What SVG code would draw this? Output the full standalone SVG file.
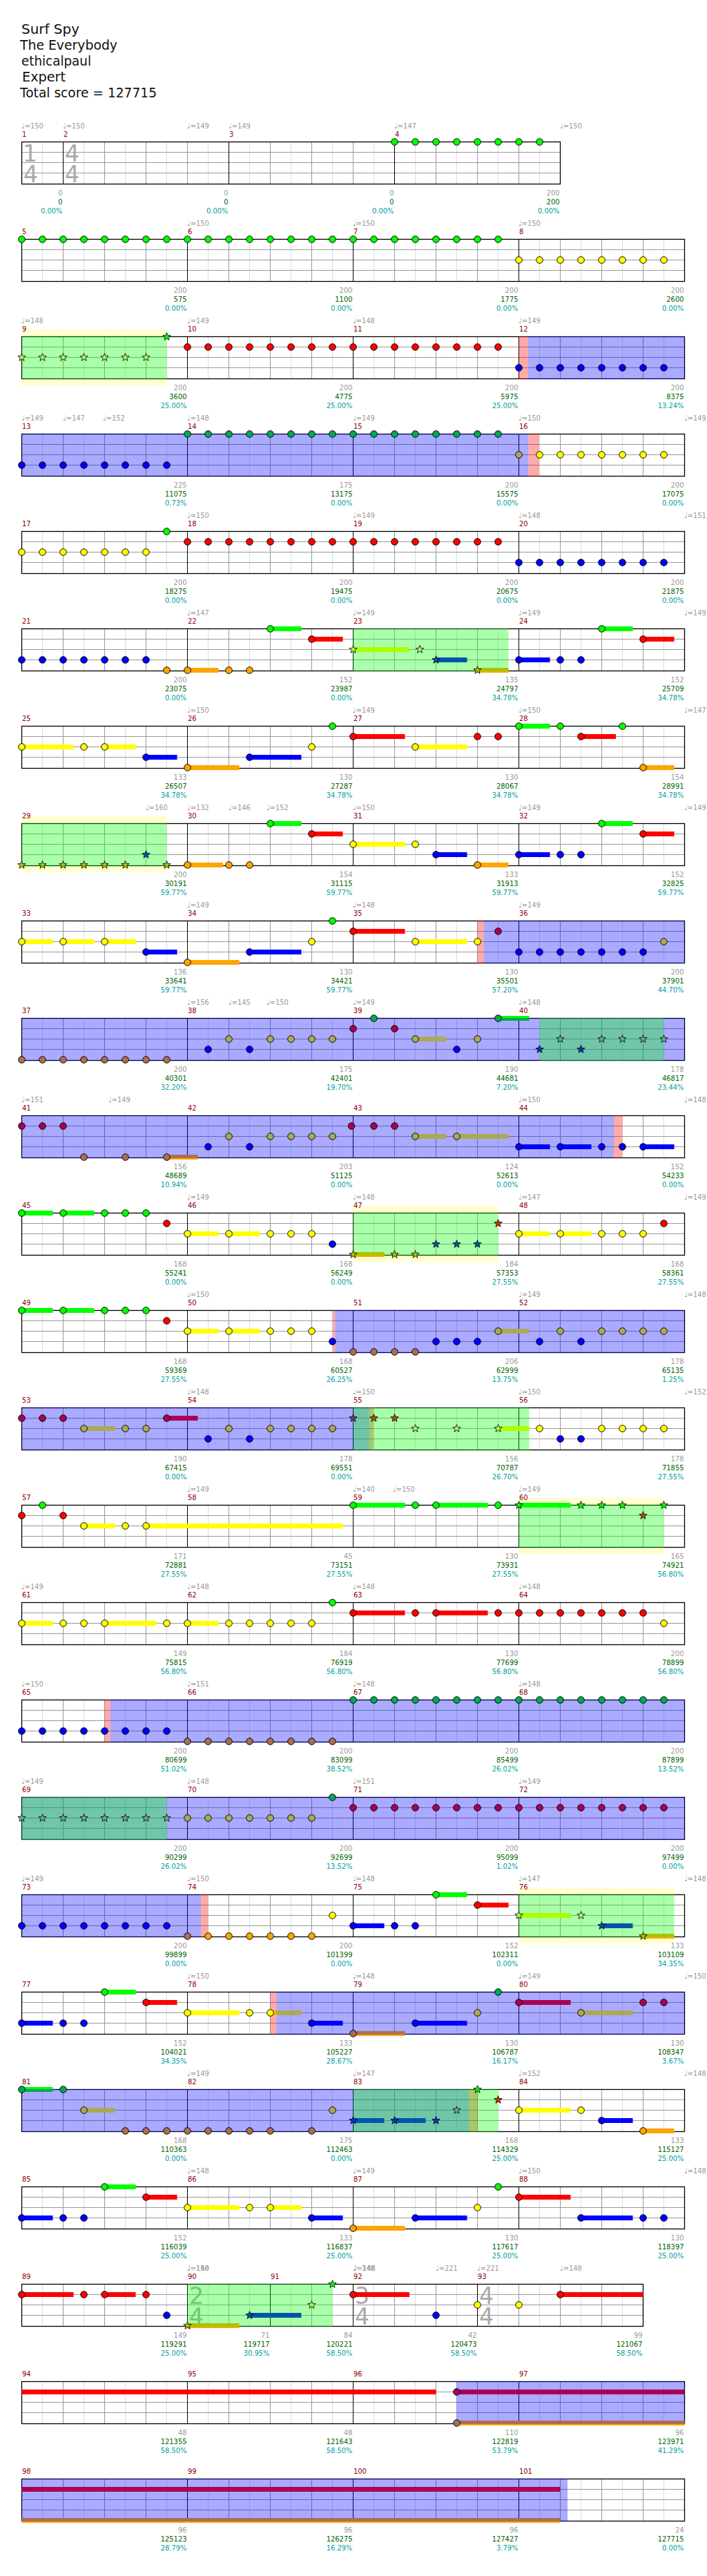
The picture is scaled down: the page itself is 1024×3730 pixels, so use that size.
<svg xmlns="http://www.w3.org/2000/svg" xmlns:xlink="http://www.w3.org/1999/xlink" width="1024" height="3730" viewBox="0 0 1024 3730">
<style>
text{font-family:"DejaVu Sans Condensed","DejaVu Sans",sans-serif;font-size:11px}
text.h{font-family:"DejaVu Sans",sans-serif;font-size:20px;fill:#111}
.mn{fill:#8b0000}
.tp{fill:#999}
.a{fill:#999;text-anchor:end}
.b{fill:#006400;text-anchor:end}
.c{fill:#00a0a0;text-anchor:end}
text.ts{font-family:"DejaVu Sans",sans-serif;font-size:33px;fill:#aaa}
circle{stroke:#000;stroke-width:1}
.G{fill:#0f0}.R{fill:#f00}.Y{fill:#ff0}.B{fill:#00f}.O{fill:#ffa500}
.g{fill:#00aa55}.r{fill:#aa0055}.y{fill:#aaaa55}.o{fill:#aa6e55}
.sy{fill:#aaff55}.sb{fill:#0055aa}.so{fill:#aac300}.sr{fill:#aa5500}.sg{fill:#0f0}.sR{fill:#cc3300}
.ty{fill:#71aa8e}.tb{fill:#0039c6}.tr{fill:#71396e}
.ov{fill:#00f;fill-opacity:.333}.sp{fill:#0f0;fill-opacity:.333}.pk{fill:#f00;fill-opacity:.333}
.bd{fill:#ffffd0}
</style>
<defs>
<path id="st" d="M0,-6L1.47,-2.02L5.71,-1.85L2.38,0.77L3.53,4.85L0,2.5L-3.53,4.85L-2.38,0.77L-5.71,-1.85L-1.47,-2.02Z" stroke="#000" stroke-width=".8"/>
<g id="grid">
<rect x="31.5" y="0" width="960" height="61" fill="#fff"/>
<path stroke="#ddd" d="M61.5 0v61M121.5 0v61M181.5 0v61M241.5 0v61M301.5 0v61M361.5 0v61M421.5 0v61M481.5 0v61M541.5 0v61M601.5 0v61M661.5 0v61M721.5 0v61M781.5 0v61M841.5 0v61M901.5 0v61M961.5 0v61"/>
<path stroke="#999" d="M91.5 0v61M151.5 0v61M211.5 0v61M331.5 0v61M391.5 0v61M451.5 0v61M571.5 0v61M631.5 0v61M691.5 0v61M811.5 0v61M871.5 0v61M931.5 0v61M31.5 15H991.5M31.5 30H991.5M31.5 45H991.5"/>
<path stroke="#000" d="M271.5 0v61M511.5 0v61M751.5 0v61"/>
<rect x="31.5" y="0" width="960" height="61" fill="none" stroke="#000" stroke-width="1.3"/>
</g>
<g id="grid0">
<rect x="31.5" y="0" width="780" height="61" fill="#fff"/>
<path stroke="#ddd" d="M61.5 0v61M121.5 0v61M181.5 0v61M241.5 0v61M301.5 0v61M361.5 0v61M421.5 0v61M481.5 0v61M541.5 0v61M601.5 0v61M661.5 0v61M721.5 0v61M781.5 0v61"/>
<path stroke="#999" d="M151.5 0v61M211.5 0v61M271.5 0v61M391.5 0v61M451.5 0v61M511.5 0v61M631.5 0v61M691.5 0v61M751.5 0v61M31.5 15H811.5M31.5 30H811.5M31.5 45H811.5"/>
<path stroke="#000" d="M91.5 0v61M331.5 0v61M571.5 0v61"/>
<rect x="31.5" y="0" width="780" height="61" fill="none" stroke="#000" stroke-width="1.3"/>
</g>
<g id="grid22">
<rect x="31.5" y="0" width="900" height="61" fill="#fff"/>
<path stroke="#ddd" d="M61.5 0v61M121.5 0v61M181.5 0v61M241.5 0v61M301.5 0v61M361.5 0v61M421.5 0v61M481.5 0v61M541.5 0v61M601.5 0v61M661.5 0v61M721.5 0v61M781.5 0v61M841.5 0v61M901.5 0v61"/>
<path stroke="#999" d="M91.5 0v61M151.5 0v61M211.5 0v61M331.5 0v61M451.5 0v61M571.5 0v61M631.5 0v61M751.5 0v61M811.5 0v61M871.5 0v61M31.5 15H931.5M31.5 30H931.5M31.5 45H931.5"/>
<path stroke="#000" d="M271.5 0v61M391.5 0v61M511.5 0v61M691.5 0v61"/>
<rect x="31.5" y="0" width="900" height="61" fill="none" stroke="#000" stroke-width="1.3"/>
</g>
</defs>
<rect width="1024" height="3730" fill="#fff"/>
<g id="header">
<text class="h" x="31" y="49" textLength="84" lengthAdjust="spacingAndGlyphs">Surf Spy</text>
<text class="h" x="29" y="72" textLength="141" lengthAdjust="spacingAndGlyphs">The Everybody</text>
<text class="h" x="31" y="95" textLength="101" lengthAdjust="spacingAndGlyphs">ethicalpaul</text>
<text class="h" x="32" y="118" textLength="63" lengthAdjust="spacingAndGlyphs">Expert</text>
<text class="h" x="29" y="141" textLength="198" lengthAdjust="spacingAndGlyphs">Total score = 127715</text>
</g>

<g id="row1" transform="translate(0,205.5)">
<use href="#grid0"/>
<text class="ts" x="33" y="28">1<tspan x="34" y="58">4</tspan></text><text class="ts" x="94" y="28">4<tspan x="94" y="58">4</tspan></text>
<g class="G"><circle cx="571.5" cy="0" r="4.8"/><circle cx="601.5" cy="0" r="4.8"/><circle cx="631.5" cy="0" r="4.8"/><circle cx="661.5" cy="0" r="4.8"/><circle cx="691.5" cy="0" r="4.8"/><circle cx="721.5" cy="0" r="4.8"/><circle cx="751.5" cy="0" r="4.8"/><circle cx="781.5" cy="0" r="4.8"/></g>
<text class="tp" x="31" y="-20">♩=150</text><text class="tp" x="91" y="-20">♩=150</text><text class="tp" x="271" y="-20">♩=149</text><text class="tp" x="331" y="-20">♩=149</text><text class="tp" x="571" y="-20">♩=147</text><text class="tp" x="811" y="-20">♩=150</text>
<text class="mn" x="32" y="-7.5">1</text><text class="mn" x="92" y="-7.5">2</text><text class="mn" x="332" y="-7.5">3</text><text class="mn" x="572" y="-7.5">4</text>
<text class="a" x="90.5" y="77">0</text><text class="b" x="90.5" y="90">0</text><text class="c" x="90.5" y="103">0.00%</text>
<text class="a" x="330.5" y="77">0</text><text class="b" x="330.5" y="90">0</text><text class="c" x="330.5" y="103">0.00%</text>
<text class="a" x="570.5" y="77">0</text><text class="b" x="570.5" y="90">0</text><text class="c" x="570.5" y="103">0.00%</text>
<text class="a" x="810.5" y="77">200</text><text class="b" x="810.5" y="90">200</text><text class="c" x="810.5" y="103">0.00%</text>
</g>

<g id="row2" transform="translate(0,346.5)">
<use href="#grid"/>
<g class="G"><circle cx="31.5" cy="0" r="4.8"/><circle cx="61.5" cy="0" r="4.8"/><circle cx="91.5" cy="0" r="4.8"/><circle cx="121.5" cy="0" r="4.8"/><circle cx="151.5" cy="0" r="4.8"/><circle cx="181.5" cy="0" r="4.8"/><circle cx="211.5" cy="0" r="4.8"/><circle cx="241.5" cy="0" r="4.8"/><circle cx="271.5" cy="0" r="4.8"/><circle cx="301.5" cy="0" r="4.8"/><circle cx="331.5" cy="0" r="4.8"/><circle cx="361.5" cy="0" r="4.8"/><circle cx="391.5" cy="0" r="4.8"/><circle cx="421.5" cy="0" r="4.8"/><circle cx="451.5" cy="0" r="4.8"/><circle cx="481.5" cy="0" r="4.8"/><circle cx="511.5" cy="0" r="4.8"/><circle cx="541.5" cy="0" r="4.8"/><circle cx="571.5" cy="0" r="4.8"/><circle cx="601.5" cy="0" r="4.8"/><circle cx="631.5" cy="0" r="4.8"/><circle cx="661.5" cy="0" r="4.8"/><circle cx="691.5" cy="0" r="4.8"/><circle cx="721.5" cy="0" r="4.8"/></g>
<g class="Y"><circle cx="751.5" cy="30" r="4.8"/><circle cx="781.5" cy="30" r="4.8"/><circle cx="811.5" cy="30" r="4.8"/><circle cx="841.5" cy="30" r="4.8"/><circle cx="871.5" cy="30" r="4.8"/><circle cx="901.5" cy="30" r="4.8"/><circle cx="931.5" cy="30" r="4.8"/><circle cx="961.5" cy="30" r="4.8"/></g>
<text class="tp" x="271" y="-20">♩=150</text><text class="tp" x="511" y="-20">♩=150</text><text class="tp" x="751" y="-20">♩=150</text>
<text class="mn" x="32" y="-7.5">5</text><text class="mn" x="272" y="-7.5">6</text><text class="mn" x="512" y="-7.5">7</text><text class="mn" x="752" y="-7.5">8</text>
<text class="a" x="270.5" y="77">200</text><text class="b" x="270.5" y="90">575</text><text class="c" x="270.5" y="103">0.00%</text>
<text class="a" x="510.5" y="77">200</text><text class="b" x="510.5" y="90">1100</text><text class="c" x="510.5" y="103">0.00%</text>
<text class="a" x="750.5" y="77">200</text><text class="b" x="750.5" y="90">1775</text><text class="c" x="750.5" y="103">0.00%</text>
<text class="a" x="990.5" y="77">200</text><text class="b" x="990.5" y="90">2600</text><text class="c" x="990.5" y="103">0.00%</text>
</g>

<g id="row3" transform="translate(0,487.5)">
<rect class="bd" x="31.5" y="-10.5" width="210" height="81.5"/>
<use href="#grid"/>
<rect class="sp" x="31.5" y="-0.5" width="210" height="62"/>
<rect class="pk" x="751.5" y="-0.5" width="13.5" height="62"/>
<rect class="ov" x="765" y="-0.5" width="226.5" height="62"/>
<g class="sy"><use href="#st" x="31.5" y="30"/><use href="#st" x="61.5" y="30"/><use href="#st" x="91.5" y="30"/><use href="#st" x="121.5" y="30"/><use href="#st" x="151.5" y="30"/><use href="#st" x="181.5" y="30"/><use href="#st" x="211.5" y="30"/></g>
<use href="#st" class="sg" x="241.5" y="0"/>
<g class="R"><circle cx="271.5" cy="15" r="4.8"/><circle cx="301.5" cy="15" r="4.8"/><circle cx="331.5" cy="15" r="4.8"/><circle cx="361.5" cy="15" r="4.8"/><circle cx="391.5" cy="15" r="4.8"/><circle cx="421.5" cy="15" r="4.8"/><circle cx="451.5" cy="15" r="4.8"/><circle cx="481.5" cy="15" r="4.8"/><circle cx="511.5" cy="15" r="4.8"/><circle cx="541.5" cy="15" r="4.8"/><circle cx="571.5" cy="15" r="4.8"/><circle cx="601.5" cy="15" r="4.8"/><circle cx="631.5" cy="15" r="4.8"/><circle cx="661.5" cy="15" r="4.8"/><circle cx="691.5" cy="15" r="4.8"/><circle cx="721.5" cy="15" r="4.8"/></g>
<g class="B"><circle cx="751.5" cy="45" r="4.8"/><circle cx="781.5" cy="45" r="4.8"/><circle cx="811.5" cy="45" r="4.8"/><circle cx="841.5" cy="45" r="4.8"/><circle cx="871.5" cy="45" r="4.8"/><circle cx="901.5" cy="45" r="4.8"/><circle cx="931.5" cy="45" r="4.8"/><circle cx="961.5" cy="45" r="4.8"/></g>
<text class="tp" x="31" y="-20">♩=148</text><text class="tp" x="271" y="-20">♩=149</text><text class="tp" x="511" y="-20">♩=148</text><text class="tp" x="751" y="-20">♩=149</text>
<text class="mn" x="32" y="-7.5">9</text><text class="mn" x="272" y="-7.5">10</text><text class="mn" x="512" y="-7.5">11</text><text class="mn" x="752" y="-7.5">12</text>
<text class="a" x="270.5" y="77">200</text><text class="b" x="270.5" y="90">3600</text><text class="c" x="270.5" y="103">25.00%</text>
<text class="a" x="510.5" y="77">200</text><text class="b" x="510.5" y="90">4775</text><text class="c" x="510.5" y="103">25.00%</text>
<text class="a" x="750.5" y="77">200</text><text class="b" x="750.5" y="90">5975</text><text class="c" x="750.5" y="103">25.00%</text>
<text class="a" x="990.5" y="77">200</text><text class="b" x="990.5" y="90">8375</text><text class="c" x="990.5" y="103">13.24%</text>
</g>

<g id="row4" transform="translate(0,628.5)">
<use href="#grid"/>
<rect class="ov" x="31.5" y="-0.5" width="734" height="62"/>
<rect class="pk" x="765.5" y="-0.5" width="15.5" height="62"/>
<g class="B"><circle cx="31.5" cy="45" r="4.8"/><circle cx="61.5" cy="45" r="4.8"/><circle cx="91.5" cy="45" r="4.8"/><circle cx="121.5" cy="45" r="4.8"/><circle cx="151.5" cy="45" r="4.8"/><circle cx="181.5" cy="45" r="4.8"/><circle cx="211.5" cy="45" r="4.8"/><circle cx="241.5" cy="45" r="4.8"/></g>
<g class="g"><circle cx="271.5" cy="0" r="4.8"/><circle cx="301.5" cy="0" r="4.8"/><circle cx="331.5" cy="0" r="4.8"/><circle cx="361.5" cy="0" r="4.8"/><circle cx="391.5" cy="0" r="4.8"/><circle cx="421.5" cy="0" r="4.8"/><circle cx="451.5" cy="0" r="4.8"/><circle cx="481.5" cy="0" r="4.8"/><circle cx="511.5" cy="0" r="4.8"/><circle cx="541.5" cy="0" r="4.8"/><circle cx="571.5" cy="0" r="4.8"/><circle cx="601.5" cy="0" r="4.8"/><circle cx="631.5" cy="0" r="4.8"/><circle cx="661.5" cy="0" r="4.8"/><circle cx="691.5" cy="0" r="4.8"/><circle cx="721.5" cy="0" r="4.8"/></g>
<circle class="y" cx="751.5" cy="30" r="4.8"/>
<g class="Y"><circle cx="781.5" cy="30" r="4.8"/><circle cx="811.5" cy="30" r="4.8"/><circle cx="841.5" cy="30" r="4.8"/><circle cx="871.5" cy="30" r="4.8"/><circle cx="901.5" cy="30" r="4.8"/><circle cx="931.5" cy="30" r="4.8"/><circle cx="961.5" cy="30" r="4.8"/></g>
<text class="tp" x="31" y="-20">♩=149</text><text class="tp" x="91" y="-20">♩=147</text><text class="tp" x="149" y="-20">♩=152</text><text class="tp" x="271" y="-20">♩=148</text><text class="tp" x="511" y="-20">♩=149</text><text class="tp" x="751" y="-20">♩=150</text><text class="tp" x="991" y="-20">♩=149</text>
<text class="mn" x="32" y="-7.5">13</text><text class="mn" x="272" y="-7.5">14</text><text class="mn" x="512" y="-7.5">15</text><text class="mn" x="752" y="-7.5">16</text>
<text class="a" x="270.5" y="77">225</text><text class="b" x="270.5" y="90">11075</text><text class="c" x="270.5" y="103">0.73%</text>
<text class="a" x="510.5" y="77">175</text><text class="b" x="510.5" y="90">13175</text><text class="c" x="510.5" y="103">0.00%</text>
<text class="a" x="750.5" y="77">200</text><text class="b" x="750.5" y="90">15575</text><text class="c" x="750.5" y="103">0.00%</text>
<text class="a" x="990.5" y="77">200</text><text class="b" x="990.5" y="90">17075</text><text class="c" x="990.5" y="103">0.00%</text>
</g>

<g id="row5" transform="translate(0,769.5)">
<use href="#grid"/>
<g class="Y"><circle cx="31.5" cy="30" r="4.8"/><circle cx="61.5" cy="30" r="4.8"/><circle cx="91.5" cy="30" r="4.8"/><circle cx="121.5" cy="30" r="4.8"/><circle cx="151.5" cy="30" r="4.8"/><circle cx="181.5" cy="30" r="4.8"/><circle cx="211.5" cy="30" r="4.8"/></g>
<circle class="G" cx="241.5" cy="0" r="4.8"/>
<g class="R"><circle cx="271.5" cy="15" r="4.8"/><circle cx="301.5" cy="15" r="4.8"/><circle cx="331.5" cy="15" r="4.8"/><circle cx="361.5" cy="15" r="4.8"/><circle cx="391.5" cy="15" r="4.8"/><circle cx="421.5" cy="15" r="4.8"/><circle cx="451.5" cy="15" r="4.8"/><circle cx="481.5" cy="15" r="4.8"/><circle cx="511.5" cy="15" r="4.8"/><circle cx="541.5" cy="15" r="4.8"/><circle cx="571.5" cy="15" r="4.8"/><circle cx="601.5" cy="15" r="4.8"/><circle cx="631.5" cy="15" r="4.8"/><circle cx="661.5" cy="15" r="4.8"/><circle cx="691.5" cy="15" r="4.8"/><circle cx="721.5" cy="15" r="4.8"/></g>
<g class="B"><circle cx="751.5" cy="45" r="4.8"/><circle cx="781.5" cy="45" r="4.8"/><circle cx="811.5" cy="45" r="4.8"/><circle cx="841.5" cy="45" r="4.8"/><circle cx="871.5" cy="45" r="4.8"/><circle cx="901.5" cy="45" r="4.8"/><circle cx="931.5" cy="45" r="4.8"/><circle cx="961.5" cy="45" r="4.8"/></g>
<text class="tp" x="271" y="-20">♩=150</text><text class="tp" x="511" y="-20">♩=149</text><text class="tp" x="751" y="-20">♩=148</text><text class="tp" x="991" y="-20">♩=151</text>
<text class="mn" x="32" y="-7.5">17</text><text class="mn" x="272" y="-7.5">18</text><text class="mn" x="512" y="-7.5">19</text><text class="mn" x="752" y="-7.5">20</text>
<text class="a" x="270.5" y="77">200</text><text class="b" x="270.5" y="90">18275</text><text class="c" x="270.5" y="103">0.00%</text>
<text class="a" x="510.5" y="77">200</text><text class="b" x="510.5" y="90">19475</text><text class="c" x="510.5" y="103">0.00%</text>
<text class="a" x="750.5" y="77">200</text><text class="b" x="750.5" y="90">20675</text><text class="c" x="750.5" y="103">0.00%</text>
<text class="a" x="990.5" y="77">200</text><text class="b" x="990.5" y="90">21875</text><text class="c" x="990.5" y="103">0.00%</text>
</g>

<g id="row6" transform="translate(0,910.5)">
<use href="#grid"/>
<rect class="O" x="271.5" y="56.5" width="45" height="7"/><rect class="G" x="391.5" y="-3.5" width="45" height="7"/><rect class="R" x="451.5" y="11.5" width="45" height="7"/><rect class="Y" x="511.5" y="26.5" width="81.5" height="7"/><rect class="B" x="631.5" y="41.5" width="45" height="7"/><rect class="O" x="691.5" y="56.5" width="45" height="7"/><rect class="B" x="751.5" y="41.5" width="45" height="7"/><rect class="G" x="871.5" y="-3.5" width="45" height="7"/><rect class="R" x="931.5" y="11.5" width="45" height="7"/>
<rect class="sp" x="511.5" y="-0.5" width="225" height="62"/>
<g class="B"><circle cx="31.5" cy="45" r="4.8"/><circle cx="61.5" cy="45" r="4.8"/><circle cx="91.5" cy="45" r="4.8"/><circle cx="121.5" cy="45" r="4.8"/><circle cx="151.5" cy="45" r="4.8"/><circle cx="181.5" cy="45" r="4.8"/><circle cx="211.5" cy="45" r="4.8"/><circle cx="751.5" cy="45" r="4.8"/><circle cx="811.5" cy="45" r="4.8"/><circle cx="841.5" cy="45" r="4.8"/></g>
<g class="O"><circle cx="241.5" cy="60" r="4.8"/><circle cx="271.5" cy="60" r="4.8"/><circle cx="331.5" cy="60" r="4.8"/><circle cx="361.5" cy="60" r="4.8"/></g>
<g class="G"><circle cx="391.5" cy="0" r="4.8"/><circle cx="871.5" cy="0" r="4.8"/></g>
<g class="R"><circle cx="451.5" cy="15" r="4.8"/><circle cx="931.5" cy="15" r="4.8"/></g>
<use href="#st" class="sy" x="511.5" y="30"/><use href="#st" class="sy" x="608" y="30"/><use href="#st" class="sb" x="631.5" y="45"/><use href="#st" class="so" x="691.5" y="60"/>
<text class="tp" x="271" y="-20">♩=147</text><text class="tp" x="511" y="-20">♩=149</text><text class="tp" x="751" y="-20">♩=149</text><text class="tp" x="991" y="-20">♩=149</text>
<text class="mn" x="32" y="-7.5">21</text><text class="mn" x="272" y="-7.5">22</text><text class="mn" x="512" y="-7.5">23</text><text class="mn" x="752" y="-7.5">24</text>
<text class="a" x="270.5" y="77">200</text><text class="b" x="270.5" y="90">23075</text><text class="c" x="270.5" y="103">0.00%</text>
<text class="a" x="510.5" y="77">152</text><text class="b" x="510.5" y="90">23987</text><text class="c" x="510.5" y="103">0.00%</text>
<text class="a" x="750.5" y="77">135</text><text class="b" x="750.5" y="90">24797</text><text class="c" x="750.5" y="103">34.78%</text>
<text class="a" x="990.5" y="77">152</text><text class="b" x="990.5" y="90">25709</text><text class="c" x="990.5" y="103">34.78%</text>
</g>

<g id="row7" transform="translate(0,1051.5)">
<use href="#grid"/>
<rect class="Y" x="31.5" y="26.5" width="75" height="7"/><rect class="Y" x="151.5" y="26.5" width="45" height="7"/><rect class="B" x="211.5" y="41.5" width="45" height="7"/><rect class="O" x="271.5" y="56.5" width="75" height="7"/><rect class="B" x="361.5" y="41.5" width="75" height="7"/><rect class="R" x="511.5" y="11.5" width="75" height="7"/><rect class="Y" x="601.5" y="26.5" width="75" height="7"/><rect class="G" x="751.5" y="-3.5" width="45" height="7"/><rect class="R" x="841.5" y="11.5" width="50.5" height="7"/><rect class="O" x="931.5" y="56.5" width="45" height="7"/>
<g class="Y"><circle cx="31.5" cy="30" r="4.8"/><circle cx="121.5" cy="30" r="4.8"/><circle cx="151.5" cy="30" r="4.8"/><circle cx="451.5" cy="30" r="4.8"/><circle cx="601.5" cy="30" r="4.8"/></g>
<g class="B"><circle cx="211.5" cy="45" r="4.8"/><circle cx="361.5" cy="45" r="4.8"/></g>
<g class="O"><circle cx="271.5" cy="60" r="4.8"/><circle cx="931.5" cy="60" r="4.8"/></g>
<g class="G"><circle cx="481.5" cy="0" r="4.8"/><circle cx="751.5" cy="0" r="4.8"/><circle cx="811.5" cy="0" r="4.8"/><circle cx="901.5" cy="0" r="4.8"/></g>
<g class="R"><circle cx="511.5" cy="15" r="4.8"/><circle cx="691.5" cy="15" r="4.8"/><circle cx="721.5" cy="15" r="4.8"/><circle cx="841.5" cy="15" r="4.8"/></g>
<text class="tp" x="271" y="-20">♩=150</text><text class="tp" x="511" y="-20">♩=149</text><text class="tp" x="751" y="-20">♩=150</text><text class="tp" x="991" y="-20">♩=147</text>
<text class="mn" x="32" y="-7.5">25</text><text class="mn" x="272" y="-7.5">26</text><text class="mn" x="512" y="-7.5">27</text><text class="mn" x="752" y="-7.5">28</text>
<text class="a" x="270.5" y="77">133</text><text class="b" x="270.5" y="90">26507</text><text class="c" x="270.5" y="103">34.78%</text>
<text class="a" x="510.5" y="77">130</text><text class="b" x="510.5" y="90">27287</text><text class="c" x="510.5" y="103">34.78%</text>
<text class="a" x="750.5" y="77">130</text><text class="b" x="750.5" y="90">28067</text><text class="c" x="750.5" y="103">34.78%</text>
<text class="a" x="990.5" y="77">154</text><text class="b" x="990.5" y="90">28991</text><text class="c" x="990.5" y="103">34.78%</text>
</g>

<g id="row8" transform="translate(0,1192.5)">
<rect class="bd" x="31.5" y="-10.5" width="210" height="81.5"/>
<use href="#grid"/>
<rect class="O" x="271.5" y="56.5" width="51.5" height="7"/><rect class="G" x="391.5" y="-3.5" width="45" height="7"/><rect class="R" x="451.5" y="11.5" width="45" height="7"/><rect class="Y" x="511.5" y="26.5" width="75" height="7"/><rect class="B" x="631.5" y="41.5" width="45" height="7"/><rect class="O" x="691.5" y="56.5" width="45" height="7"/><rect class="B" x="751.5" y="41.5" width="45" height="7"/><rect class="G" x="871.5" y="-3.5" width="45" height="7"/><rect class="R" x="931.5" y="11.5" width="45" height="7"/>
<rect class="sp" x="31.5" y="-0.5" width="210" height="62"/>
<g class="so"><use href="#st" x="31.5" y="60"/><use href="#st" x="61.5" y="60"/><use href="#st" x="91.5" y="60"/><use href="#st" x="121.5" y="60"/><use href="#st" x="151.5" y="60"/><use href="#st" x="181.5" y="60"/><use href="#st" x="241.5" y="60"/></g>
<use href="#st" class="sb" x="211.5" y="45"/>
<g class="O"><circle cx="271.5" cy="60" r="4.8"/><circle cx="331.5" cy="60" r="4.8"/><circle cx="361.5" cy="60" r="4.8"/><circle cx="691.5" cy="60" r="4.8"/></g>
<g class="G"><circle cx="391.5" cy="0" r="4.8"/><circle cx="871.5" cy="0" r="4.8"/></g>
<g class="R"><circle cx="451.5" cy="15" r="4.8"/><circle cx="931.5" cy="15" r="4.8"/></g>
<g class="Y"><circle cx="511.5" cy="30" r="4.8"/><circle cx="601.5" cy="30" r="4.8"/></g>
<g class="B"><circle cx="631.5" cy="45" r="4.8"/><circle cx="751.5" cy="45" r="4.8"/><circle cx="811.5" cy="45" r="4.8"/><circle cx="841.5" cy="45" r="4.8"/></g>
<text class="tp" x="211" y="-20">♩=160</text><text class="tp" x="271" y="-20">♩=132</text><text class="tp" x="331" y="-20">♩=146</text><text class="tp" x="386" y="-20">♩=152</text><text class="tp" x="511" y="-20">♩=150</text><text class="tp" x="751" y="-20">♩=149</text><text class="tp" x="991" y="-20">♩=149</text>
<text class="mn" x="32" y="-7.5">29</text><text class="mn" x="272" y="-7.5">30</text><text class="mn" x="512" y="-7.5">31</text><text class="mn" x="752" y="-7.5">32</text>
<text class="a" x="270.5" y="77">200</text><text class="b" x="270.5" y="90">30191</text><text class="c" x="270.5" y="103">59.77%</text>
<text class="a" x="510.5" y="77">154</text><text class="b" x="510.5" y="90">31115</text><text class="c" x="510.5" y="103">59.77%</text>
<text class="a" x="750.5" y="77">133</text><text class="b" x="750.5" y="90">31913</text><text class="c" x="750.5" y="103">59.77%</text>
<text class="a" x="990.5" y="77">152</text><text class="b" x="990.5" y="90">32825</text><text class="c" x="990.5" y="103">59.77%</text>
</g>

<g id="row9" transform="translate(0,1333.5)">
<use href="#grid"/>
<rect class="Y" x="31.5" y="26.5" width="45" height="7"/><rect class="Y" x="91.5" y="26.5" width="45" height="7"/><rect class="Y" x="151.5" y="26.5" width="45" height="7"/><rect class="B" x="211.5" y="41.5" width="45" height="7"/><rect class="O" x="271.5" y="56.5" width="75" height="7"/><rect class="B" x="361.5" y="41.5" width="75" height="7"/><rect class="R" x="511.5" y="11.5" width="75" height="7"/><rect class="Y" x="601.5" y="26.5" width="75" height="7"/>
<rect class="pk" x="691.5" y="-0.5" width="9.5" height="62"/>
<rect class="ov" x="701" y="-0.5" width="290.5" height="62"/>
<g class="Y"><circle cx="31.5" cy="30" r="4.8"/><circle cx="91.5" cy="30" r="4.8"/><circle cx="151.5" cy="30" r="4.8"/><circle cx="451.5" cy="30" r="4.8"/><circle cx="601.5" cy="30" r="4.8"/><circle cx="691.5" cy="30" r="4.8"/></g>
<g class="B"><circle cx="211.5" cy="45" r="4.8"/><circle cx="361.5" cy="45" r="4.8"/><circle cx="751.5" cy="45" r="4.8"/><circle cx="781.5" cy="45" r="4.8"/><circle cx="811.5" cy="45" r="4.8"/><circle cx="841.5" cy="45" r="4.8"/><circle cx="871.5" cy="45" r="4.8"/><circle cx="901.5" cy="45" r="4.8"/><circle cx="931.5" cy="45" r="4.8"/></g>
<circle class="O" cx="271.5" cy="60" r="4.8"/><circle class="G" cx="481.5" cy="0" r="4.8"/><circle class="R" cx="511.5" cy="15" r="4.8"/><circle class="r" cx="721.5" cy="15" r="4.8"/><circle class="y" cx="961.5" cy="30" r="4.8"/>
<text class="tp" x="271" y="-20">♩=149</text><text class="tp" x="511" y="-20">♩=148</text><text class="tp" x="751" y="-20">♩=149</text>
<text class="mn" x="32" y="-7.5">33</text><text class="mn" x="272" y="-7.5">34</text><text class="mn" x="512" y="-7.5">35</text><text class="mn" x="752" y="-7.5">36</text>
<text class="a" x="270.5" y="77">136</text><text class="b" x="270.5" y="90">33641</text><text class="c" x="270.5" y="103">59.77%</text>
<text class="a" x="510.5" y="77">130</text><text class="b" x="510.5" y="90">34421</text><text class="c" x="510.5" y="103">59.77%</text>
<text class="a" x="750.5" y="77">130</text><text class="b" x="750.5" y="90">35501</text><text class="c" x="750.5" y="103">57.20%</text>
<text class="a" x="990.5" y="77">200</text><text class="b" x="990.5" y="90">37901</text><text class="c" x="990.5" y="103">44.70%</text>
</g>

<g id="row10" transform="translate(0,1474.5)">
<use href="#grid"/>
<rect class="Y" x="601.5" y="26.5" width="45" height="7"/><rect class="G" x="721.5" y="-3.5" width="45" height="7"/>
<rect class="ov" x="31.5" y="-0.5" width="960" height="62"/>
<rect class="sp" x="781.5" y="-0.5" width="180" height="62"/>
<g class="o"><circle cx="31.5" cy="60" r="4.8"/><circle cx="61.5" cy="60" r="4.8"/><circle cx="91.5" cy="60" r="4.8"/><circle cx="121.5" cy="60" r="4.8"/><circle cx="151.5" cy="60" r="4.8"/><circle cx="181.5" cy="60" r="4.8"/><circle cx="211.5" cy="60" r="4.8"/><circle cx="241.5" cy="60" r="4.8"/></g>
<g class="B"><circle cx="301.5" cy="45" r="4.8"/><circle cx="361.5" cy="45" r="4.8"/><circle cx="661.5" cy="45" r="4.8"/></g>
<g class="y"><circle cx="331.5" cy="30" r="4.8"/><circle cx="391.5" cy="30" r="4.8"/><circle cx="421.5" cy="30" r="4.8"/><circle cx="451.5" cy="30" r="4.8"/><circle cx="481.5" cy="30" r="4.8"/><circle cx="601.5" cy="30" r="4.8"/><circle cx="691.5" cy="30" r="4.8"/></g>
<g class="r"><circle cx="511.5" cy="15" r="4.8"/><circle cx="571.5" cy="15" r="4.8"/></g>
<g class="g"><circle cx="541.5" cy="0" r="4.8"/><circle cx="721.5" cy="0" r="4.8"/></g>
<g class="tb"><use href="#st" x="781.5" y="45"/><use href="#st" x="841.5" y="45"/></g>
<g class="ty"><use href="#st" x="811.5" y="30"/><use href="#st" x="871.5" y="30"/><use href="#st" x="901.5" y="30"/><use href="#st" x="931.5" y="30"/><use href="#st" x="961.5" y="30"/></g>
<text class="tp" x="271" y="-20">♩=156</text><text class="tp" x="331" y="-20">♩=145</text><text class="tp" x="386" y="-20">♩=150</text><text class="tp" x="511" y="-20">♩=149</text><text class="tp" x="751" y="-20">♩=148</text>
<text class="mn" x="32" y="-7.5">37</text><text class="mn" x="272" y="-7.5">38</text><text class="mn" x="512" y="-7.5">39</text><text class="mn" x="752" y="-7.5">40</text>
<text class="a" x="270.5" y="77">200</text><text class="b" x="270.5" y="90">40301</text><text class="c" x="270.5" y="103">32.20%</text>
<text class="a" x="510.5" y="77">175</text><text class="b" x="510.5" y="90">42401</text><text class="c" x="510.5" y="103">19.70%</text>
<text class="a" x="750.5" y="77">190</text><text class="b" x="750.5" y="90">44681</text><text class="c" x="750.5" y="103">7.20%</text>
<text class="a" x="990.5" y="77">178</text><text class="b" x="990.5" y="90">46817</text><text class="c" x="990.5" y="103">23.44%</text>
</g>

<g id="row11" transform="translate(0,1615.5)">
<use href="#grid"/>
<rect class="O" x="241.5" y="56.5" width="45" height="7"/><rect class="Y" x="601.5" y="26.5" width="45" height="7"/><rect class="Y" x="661.5" y="26.5" width="75" height="7"/><rect class="B" x="751.5" y="41.5" width="45" height="7"/><rect class="B" x="811.5" y="41.5" width="45" height="7"/><rect class="B" x="931.5" y="41.5" width="45" height="7"/>
<rect class="ov" x="31.5" y="-0.5" width="857.5" height="62"/>
<rect class="pk" x="889" y="-0.5" width="12.5" height="62"/>
<g class="r"><circle cx="31.5" cy="15" r="4.8"/><circle cx="61.5" cy="15" r="4.8"/><circle cx="91.5" cy="15" r="4.8"/><circle cx="509" cy="15" r="4.8"/><circle cx="541.5" cy="15" r="4.8"/><circle cx="571.5" cy="15" r="4.8"/></g>
<g class="o"><circle cx="121.5" cy="60" r="4.8"/><circle cx="181.5" cy="60" r="4.8"/><circle cx="241.5" cy="60" r="4.8"/></g>
<g class="B"><circle cx="301.5" cy="45" r="4.8"/><circle cx="361.5" cy="45" r="4.8"/><circle cx="751.5" cy="45" r="4.8"/><circle cx="811.5" cy="45" r="4.8"/><circle cx="871.5" cy="45" r="4.8"/><circle cx="901.5" cy="45" r="4.8"/><circle cx="931.5" cy="45" r="4.8"/></g>
<g class="y"><circle cx="331.5" cy="30" r="4.8"/><circle cx="391.5" cy="30" r="4.8"/><circle cx="421.5" cy="30" r="4.8"/><circle cx="451.5" cy="30" r="4.8"/><circle cx="481.5" cy="30" r="4.8"/><circle cx="601.5" cy="30" r="4.8"/><circle cx="661.5" cy="30" r="4.8"/></g>
<text class="tp" x="31" y="-20">♩=151</text><text class="tp" x="157" y="-20">♩=149</text><text class="tp" x="751" y="-20">♩=150</text><text class="tp" x="991" y="-20">♩=148</text>
<text class="mn" x="32" y="-7.5">41</text><text class="mn" x="272" y="-7.5">42</text><text class="mn" x="512" y="-7.5">43</text><text class="mn" x="752" y="-7.5">44</text>
<text class="a" x="270.5" y="77">156</text><text class="b" x="270.5" y="90">48689</text><text class="c" x="270.5" y="103">10.94%</text>
<text class="a" x="510.5" y="77">203</text><text class="b" x="510.5" y="90">51125</text><text class="c" x="510.5" y="103">0.00%</text>
<text class="a" x="750.5" y="77">124</text><text class="b" x="750.5" y="90">52613</text><text class="c" x="750.5" y="103">0.00%</text>
<text class="a" x="990.5" y="77">152</text><text class="b" x="990.5" y="90">54233</text><text class="c" x="990.5" y="103">0.00%</text>
</g>

<g id="row12" transform="translate(0,1756.5)">
<rect class="bd" x="511.5" y="-10.5" width="210" height="81.5"/>
<use href="#grid"/>
<rect class="G" x="31.5" y="-3.5" width="45" height="7"/><rect class="G" x="91.5" y="-3.5" width="45" height="7"/><rect class="Y" x="271.5" y="26.5" width="45" height="7"/><rect class="Y" x="331.5" y="26.5" width="45" height="7"/><rect class="O" x="511.5" y="56.5" width="45" height="7"/><rect class="Y" x="751.5" y="26.5" width="45" height="7"/><rect class="Y" x="811.5" y="26.5" width="45" height="7"/>
<rect class="sp" x="511.5" y="-0.5" width="210" height="62"/>
<g class="G"><circle cx="31.5" cy="0" r="4.8"/><circle cx="91.5" cy="0" r="4.8"/><circle cx="151.5" cy="0" r="4.8"/><circle cx="181.5" cy="0" r="4.8"/><circle cx="211.5" cy="0" r="4.8"/></g>
<g class="R"><circle cx="241.5" cy="15" r="4.8"/><circle cx="961.5" cy="15" r="4.8"/></g>
<g class="Y"><circle cx="271.5" cy="30" r="4.8"/><circle cx="331.5" cy="30" r="4.8"/><circle cx="391.5" cy="30" r="4.8"/><circle cx="421.5" cy="30" r="4.8"/><circle cx="451.5" cy="30" r="4.8"/><circle cx="751.5" cy="30" r="4.8"/><circle cx="811.5" cy="30" r="4.8"/><circle cx="871.5" cy="30" r="4.8"/><circle cx="901.5" cy="30" r="4.8"/><circle cx="931.5" cy="30" r="4.8"/></g>
<circle class="B" cx="481.5" cy="45" r="4.8"/>
<g class="so"><use href="#st" x="511.5" y="60"/><use href="#st" x="571.5" y="60"/><use href="#st" x="601.5" y="60"/></g>
<g class="sb"><use href="#st" x="631.5" y="45"/><use href="#st" x="661.5" y="45"/><use href="#st" x="691.5" y="45"/></g>
<use href="#st" class="sR" x="721.5" y="15"/>
<text class="tp" x="271" y="-20">♩=149</text><text class="tp" x="511" y="-20">♩=148</text><text class="tp" x="751" y="-20">♩=147</text><text class="tp" x="991" y="-20">♩=149</text>
<text class="mn" x="32" y="-7.5">45</text><text class="mn" x="272" y="-7.5">46</text><text class="mn" x="512" y="-7.5">47</text><text class="mn" x="752" y="-7.5">48</text>
<text class="a" x="270.5" y="77">168</text><text class="b" x="270.5" y="90">55241</text><text class="c" x="270.5" y="103">0.00%</text>
<text class="a" x="510.5" y="77">168</text><text class="b" x="510.5" y="90">56249</text><text class="c" x="510.5" y="103">0.00%</text>
<text class="a" x="750.5" y="77">184</text><text class="b" x="750.5" y="90">57353</text><text class="c" x="750.5" y="103">27.55%</text>
<text class="a" x="990.5" y="77">168</text><text class="b" x="990.5" y="90">58361</text><text class="c" x="990.5" y="103">27.55%</text>
</g>

<g id="row13" transform="translate(0,1897.5)">
<use href="#grid"/>
<rect class="G" x="31.5" y="-3.5" width="45" height="7"/><rect class="G" x="91.5" y="-3.5" width="45" height="7"/><rect class="Y" x="271.5" y="26.5" width="45" height="7"/><rect class="Y" x="331.5" y="26.5" width="45" height="7"/><rect class="Y" x="721.5" y="26.5" width="45" height="7"/>
<rect class="pk" x="481.5" y="-0.5" width="4" height="62"/>
<rect class="ov" x="485.5" y="-0.5" width="506" height="62"/>
<g class="G"><circle cx="31.5" cy="0" r="4.8"/><circle cx="91.5" cy="0" r="4.8"/><circle cx="151.5" cy="0" r="4.8"/><circle cx="181.5" cy="0" r="4.8"/><circle cx="211.5" cy="0" r="4.8"/></g>
<circle class="R" cx="241.5" cy="15" r="4.8"/>
<g class="Y"><circle cx="271.5" cy="30" r="4.8"/><circle cx="331.5" cy="30" r="4.8"/><circle cx="391.5" cy="30" r="4.8"/><circle cx="421.5" cy="30" r="4.8"/><circle cx="451.5" cy="30" r="4.8"/></g>
<g class="B"><circle cx="481.5" cy="45" r="4.8"/><circle cx="631.5" cy="45" r="4.8"/><circle cx="661.5" cy="45" r="4.8"/><circle cx="691.5" cy="45" r="4.8"/><circle cx="781.5" cy="45" r="4.8"/><circle cx="841.5" cy="45" r="4.8"/></g>
<g class="o"><circle cx="511.5" cy="60" r="4.8"/><circle cx="541.5" cy="60" r="4.8"/><circle cx="571.5" cy="60" r="4.8"/><circle cx="601.5" cy="60" r="4.8"/></g>
<g class="y"><circle cx="721.5" cy="30" r="4.8"/><circle cx="811.5" cy="30" r="4.8"/><circle cx="871.5" cy="30" r="4.8"/><circle cx="901.5" cy="30" r="4.8"/><circle cx="931.5" cy="30" r="4.8"/><circle cx="961.5" cy="30" r="4.8"/></g>
<text class="tp" x="271" y="-20">♩=150</text><text class="tp" x="751" y="-20">♩=149</text><text class="tp" x="991" y="-20">♩=148</text>
<text class="mn" x="32" y="-7.5">49</text><text class="mn" x="272" y="-7.5">50</text><text class="mn" x="512" y="-7.5">51</text><text class="mn" x="752" y="-7.5">52</text>
<text class="a" x="270.5" y="77">168</text><text class="b" x="270.5" y="90">59369</text><text class="c" x="270.5" y="103">27.55%</text>
<text class="a" x="510.5" y="77">168</text><text class="b" x="510.5" y="90">60527</text><text class="c" x="510.5" y="103">26.25%</text>
<text class="a" x="750.5" y="77">206</text><text class="b" x="750.5" y="90">62999</text><text class="c" x="750.5" y="103">13.75%</text>
<text class="a" x="990.5" y="77">178</text><text class="b" x="990.5" y="90">65135</text><text class="c" x="990.5" y="103">1.25%</text>
</g>

<g id="row14" transform="translate(0,2038.5)">
<use href="#grid"/>
<rect class="Y" x="121.5" y="26.5" width="45" height="7"/><rect class="R" x="241.5" y="11.5" width="45" height="7"/><rect class="Y" x="721.5" y="26.5" width="45" height="7"/>
<rect class="ov" x="31.5" y="-0.5" width="503.5" height="62"/>
<rect class="pk" x="535" y="-0.5" width="6" height="62"/>
<rect class="sp" x="511.5" y="-0.5" width="255" height="62"/>
<g class="r"><circle cx="31.5" cy="15" r="4.8"/><circle cx="61.5" cy="15" r="4.8"/><circle cx="91.5" cy="15" r="4.8"/><circle cx="241.5" cy="15" r="4.8"/></g>
<g class="y"><circle cx="121.5" cy="30" r="4.8"/><circle cx="181.5" cy="30" r="4.8"/><circle cx="211.5" cy="30" r="4.8"/><circle cx="331.5" cy="30" r="4.8"/><circle cx="391.5" cy="30" r="4.8"/><circle cx="421.5" cy="30" r="4.8"/><circle cx="451.5" cy="30" r="4.8"/><circle cx="481.5" cy="30" r="4.8"/></g>
<g class="B"><circle cx="301.5" cy="45" r="4.8"/><circle cx="361.5" cy="45" r="4.8"/><circle cx="811.5" cy="45" r="4.8"/><circle cx="841.5" cy="45" r="4.8"/></g>
<use href="#st" class="tr" x="511.5" y="15"/>
<g class="sr"><use href="#st" x="541.5" y="15"/><use href="#st" x="571.5" y="15"/></g>
<g class="sy"><use href="#st" x="601.5" y="30"/><use href="#st" x="661.5" y="30"/><use href="#st" x="721.5" y="30"/></g>
<g class="Y"><circle cx="781.5" cy="30" r="4.8"/><circle cx="871.5" cy="30" r="4.8"/><circle cx="901.5" cy="30" r="4.8"/><circle cx="931.5" cy="30" r="4.8"/><circle cx="961.5" cy="30" r="4.8"/></g>
<text class="tp" x="271" y="-20">♩=148</text><text class="tp" x="511" y="-20">♩=150</text><text class="tp" x="751" y="-20">♩=150</text><text class="tp" x="991" y="-20">♩=152</text>
<text class="mn" x="32" y="-7.5">53</text><text class="mn" x="272" y="-7.5">54</text><text class="mn" x="512" y="-7.5">55</text><text class="mn" x="752" y="-7.5">56</text>
<text class="a" x="270.5" y="77">190</text><text class="b" x="270.5" y="90">67415</text><text class="c" x="270.5" y="103">0.00%</text>
<text class="a" x="510.5" y="77">178</text><text class="b" x="510.5" y="90">69551</text><text class="c" x="510.5" y="103">0.00%</text>
<text class="a" x="750.5" y="77">156</text><text class="b" x="750.5" y="90">70787</text><text class="c" x="750.5" y="103">26.70%</text>
<text class="a" x="990.5" y="77">178</text><text class="b" x="990.5" y="90">71855</text><text class="c" x="990.5" y="103">27.55%</text>
</g>

<g id="row15" transform="translate(0,2179.5)">
<rect class="bd" x="751.5" y="-10.5" width="210" height="81.5"/>
<use href="#grid"/>
<rect class="Y" x="121.5" y="26.5" width="45" height="7"/><rect class="Y" x="211.5" y="26.5" width="285" height="7"/><rect class="G" x="511.5" y="-3.5" width="75" height="7"/><rect class="G" x="631.5" y="-3.5" width="75" height="7"/><rect class="G" x="751.5" y="-3.5" width="75" height="7"/>
<rect class="sp" x="751.5" y="-0.5" width="210" height="62"/>
<g class="R"><circle cx="31.5" cy="15" r="4.8"/><circle cx="91.5" cy="15" r="4.8"/></g>
<g class="G"><circle cx="61.5" cy="0" r="4.8"/><circle cx="511.5" cy="0" r="4.8"/><circle cx="601.5" cy="0" r="4.8"/><circle cx="631.5" cy="0" r="4.8"/><circle cx="721.5" cy="0" r="4.8"/></g>
<g class="Y"><circle cx="121.5" cy="30" r="4.8"/><circle cx="181.5" cy="30" r="4.8"/><circle cx="211.5" cy="30" r="4.8"/></g>
<g class="sg"><use href="#st" x="751.5" y="0"/><use href="#st" x="841.5" y="0"/><use href="#st" x="871.5" y="0"/><use href="#st" x="901.5" y="0"/><use href="#st" x="961.5" y="0"/></g>
<use href="#st" class="sr" x="931.5" y="15"/>
<text class="tp" x="271" y="-20">♩=149</text><text class="tp" x="511" y="-20">♩=140</text><text class="tp" x="569" y="-20">♩=150</text><text class="tp" x="751" y="-20">♩=149</text>
<text class="mn" x="32" y="-7.5">57</text><text class="mn" x="272" y="-7.5">58</text><text class="mn" x="512" y="-7.5">59</text><text class="mn" x="752" y="-7.5">60</text>
<text class="a" x="270.5" y="77">171</text><text class="b" x="270.5" y="90">72881</text><text class="c" x="270.5" y="103">27.55%</text>
<text class="a" x="510.5" y="77">45</text><text class="b" x="510.5" y="90">73151</text><text class="c" x="510.5" y="103">27.55%</text>
<text class="a" x="750.5" y="77">130</text><text class="b" x="750.5" y="90">73931</text><text class="c" x="750.5" y="103">27.55%</text>
<text class="a" x="990.5" y="77">165</text><text class="b" x="990.5" y="90">74921</text><text class="c" x="990.5" y="103">56.80%</text>
</g>

<g id="row16" transform="translate(0,2320.5)">
<use href="#grid"/>
<rect class="Y" x="31.5" y="26.5" width="45" height="7"/><rect class="Y" x="151.5" y="26.5" width="75" height="7"/><rect class="Y" x="271.5" y="26.5" width="45" height="7"/><rect class="R" x="511.5" y="11.5" width="75" height="7"/><rect class="R" x="631.5" y="11.5" width="75" height="7"/>
<g class="Y"><circle cx="31.5" cy="30" r="4.8"/><circle cx="91.5" cy="30" r="4.8"/><circle cx="121.5" cy="30" r="4.8"/><circle cx="151.5" cy="30" r="4.8"/><circle cx="241.5" cy="30" r="4.8"/><circle cx="271.5" cy="30" r="4.8"/><circle cx="331.5" cy="30" r="4.8"/><circle cx="361.5" cy="30" r="4.8"/><circle cx="391.5" cy="30" r="4.8"/><circle cx="421.5" cy="30" r="4.8"/><circle cx="451.5" cy="30" r="4.8"/><circle cx="961.5" cy="30" r="4.8"/></g>
<circle class="G" cx="481.5" cy="0" r="4.8"/>
<g class="R"><circle cx="511.5" cy="15" r="4.8"/><circle cx="601.5" cy="15" r="4.8"/><circle cx="631.5" cy="15" r="4.8"/><circle cx="721.5" cy="15" r="4.8"/><circle cx="751.5" cy="15" r="4.8"/><circle cx="781.5" cy="15" r="4.8"/><circle cx="811.5" cy="15" r="4.8"/><circle cx="841.5" cy="15" r="4.8"/><circle cx="871.5" cy="15" r="4.8"/><circle cx="901.5" cy="15" r="4.8"/><circle cx="931.5" cy="15" r="4.8"/></g>
<text class="tp" x="31" y="-20">♩=149</text><text class="tp" x="271" y="-20">♩=148</text><text class="tp" x="511" y="-20">♩=148</text><text class="tp" x="751" y="-20">♩=148</text>
<text class="mn" x="32" y="-7.5">61</text><text class="mn" x="272" y="-7.5">62</text><text class="mn" x="512" y="-7.5">63</text><text class="mn" x="752" y="-7.5">64</text>
<text class="a" x="270.5" y="77">149</text><text class="b" x="270.5" y="90">75815</text><text class="c" x="270.5" y="103">56.80%</text>
<text class="a" x="510.5" y="77">184</text><text class="b" x="510.5" y="90">76919</text><text class="c" x="510.5" y="103">56.80%</text>
<text class="a" x="750.5" y="77">130</text><text class="b" x="750.5" y="90">77699</text><text class="c" x="750.5" y="103">56.80%</text>
<text class="a" x="990.5" y="77">200</text><text class="b" x="990.5" y="90">78899</text><text class="c" x="990.5" y="103">56.80%</text>
</g>

<g id="row17" transform="translate(0,2461.5)">
<use href="#grid"/>
<rect class="pk" x="151.5" y="-0.5" width="8.5" height="62"/>
<rect class="ov" x="160" y="-0.5" width="831.5" height="62"/>
<g class="B"><circle cx="31.5" cy="45" r="4.8"/><circle cx="61.5" cy="45" r="4.8"/><circle cx="91.5" cy="45" r="4.8"/><circle cx="121.5" cy="45" r="4.8"/><circle cx="151.5" cy="45" r="4.8"/><circle cx="181.5" cy="45" r="4.8"/><circle cx="211.5" cy="45" r="4.8"/><circle cx="241.5" cy="45" r="4.8"/></g>
<g class="o"><circle cx="271.5" cy="60" r="4.8"/><circle cx="301.5" cy="60" r="4.8"/><circle cx="331.5" cy="60" r="4.8"/><circle cx="361.5" cy="60" r="4.8"/><circle cx="391.5" cy="60" r="4.8"/><circle cx="421.5" cy="60" r="4.8"/><circle cx="451.5" cy="60" r="4.8"/><circle cx="481.5" cy="60" r="4.8"/></g>
<g class="g"><circle cx="511.5" cy="0" r="4.8"/><circle cx="541.5" cy="0" r="4.8"/><circle cx="571.5" cy="0" r="4.8"/><circle cx="601.5" cy="0" r="4.8"/><circle cx="631.5" cy="0" r="4.8"/><circle cx="661.5" cy="0" r="4.8"/><circle cx="691.5" cy="0" r="4.8"/><circle cx="721.5" cy="0" r="4.8"/><circle cx="751.5" cy="0" r="4.8"/><circle cx="781.5" cy="0" r="4.8"/><circle cx="811.5" cy="0" r="4.8"/><circle cx="841.5" cy="0" r="4.8"/><circle cx="871.5" cy="0" r="4.8"/><circle cx="901.5" cy="0" r="4.8"/><circle cx="931.5" cy="0" r="4.8"/><circle cx="961.5" cy="0" r="4.8"/></g>
<text class="tp" x="31" y="-20">♩=150</text><text class="tp" x="271" y="-20">♩=151</text><text class="tp" x="511" y="-20">♩=148</text><text class="tp" x="751" y="-20">♩=148</text>
<text class="mn" x="32" y="-7.5">65</text><text class="mn" x="272" y="-7.5">66</text><text class="mn" x="512" y="-7.5">67</text><text class="mn" x="752" y="-7.5">68</text>
<text class="a" x="270.5" y="77">200</text><text class="b" x="270.5" y="90">80699</text><text class="c" x="270.5" y="103">51.02%</text>
<text class="a" x="510.5" y="77">200</text><text class="b" x="510.5" y="90">83099</text><text class="c" x="510.5" y="103">38.52%</text>
<text class="a" x="750.5" y="77">200</text><text class="b" x="750.5" y="90">85499</text><text class="c" x="750.5" y="103">26.02%</text>
<text class="a" x="990.5" y="77">200</text><text class="b" x="990.5" y="90">87899</text><text class="c" x="990.5" y="103">13.52%</text>
</g>

<g id="row18" transform="translate(0,2602.5)">
<use href="#grid"/>
<rect class="ov" x="31.5" y="-0.5" width="960" height="62"/>
<rect class="sp" x="31.5" y="-0.5" width="210" height="62"/>
<g class="ty"><use href="#st" x="31.5" y="30"/><use href="#st" x="61.5" y="30"/><use href="#st" x="91.5" y="30"/><use href="#st" x="121.5" y="30"/><use href="#st" x="151.5" y="30"/><use href="#st" x="181.5" y="30"/><use href="#st" x="211.5" y="30"/><use href="#st" x="241.5" y="30"/></g>
<g class="y"><circle cx="271.5" cy="30" r="4.8"/><circle cx="301.5" cy="30" r="4.8"/><circle cx="331.5" cy="30" r="4.8"/><circle cx="361.5" cy="30" r="4.8"/><circle cx="391.5" cy="30" r="4.8"/><circle cx="421.5" cy="30" r="4.8"/><circle cx="451.5" cy="30" r="4.8"/></g>
<circle class="g" cx="481.5" cy="0" r="4.8"/>
<g class="r"><circle cx="511.5" cy="15" r="4.8"/><circle cx="541.5" cy="15" r="4.8"/><circle cx="571.5" cy="15" r="4.8"/><circle cx="601.5" cy="15" r="4.8"/><circle cx="631.5" cy="15" r="4.8"/><circle cx="661.5" cy="15" r="4.8"/><circle cx="691.5" cy="15" r="4.8"/><circle cx="721.5" cy="15" r="4.8"/><circle cx="751.5" cy="15" r="4.8"/><circle cx="781.5" cy="15" r="4.8"/><circle cx="811.5" cy="15" r="4.8"/><circle cx="841.5" cy="15" r="4.8"/><circle cx="871.5" cy="15" r="4.8"/><circle cx="901.5" cy="15" r="4.8"/><circle cx="931.5" cy="15" r="4.8"/><circle cx="961.5" cy="15" r="4.8"/></g>
<text class="tp" x="31" y="-20">♩=149</text><text class="tp" x="271" y="-20">♩=148</text><text class="tp" x="511" y="-20">♩=151</text><text class="tp" x="751" y="-20">♩=149</text>
<text class="mn" x="32" y="-7.5">69</text><text class="mn" x="272" y="-7.5">70</text><text class="mn" x="512" y="-7.5">71</text><text class="mn" x="752" y="-7.5">72</text>
<text class="a" x="270.5" y="77">200</text><text class="b" x="270.5" y="90">90299</text><text class="c" x="270.5" y="103">26.02%</text>
<text class="a" x="510.5" y="77">200</text><text class="b" x="510.5" y="90">92699</text><text class="c" x="510.5" y="103">13.52%</text>
<text class="a" x="750.5" y="77">200</text><text class="b" x="750.5" y="90">95099</text><text class="c" x="750.5" y="103">1.02%</text>
<text class="a" x="990.5" y="77">200</text><text class="b" x="990.5" y="90">97499</text><text class="c" x="990.5" y="103">0.00%</text>
</g>

<g id="row19" transform="translate(0,2743.5)">
<rect class="bd" x="751.5" y="-10.5" width="225" height="81.5"/>
<use href="#grid"/>
<rect class="B" x="511.5" y="41.5" width="45" height="7"/><rect class="G" x="631.5" y="-3.5" width="45" height="7"/><rect class="R" x="691.5" y="11.5" width="45" height="7"/><rect class="Y" x="751.5" y="26.5" width="75" height="7"/><rect class="B" x="871.5" y="41.5" width="45" height="7"/><rect class="O" x="931.5" y="56.5" width="45" height="7"/>
<rect class="ov" x="31.5" y="-0.5" width="259.5" height="62"/>
<rect class="pk" x="291" y="-0.5" width="10.5" height="62"/>
<rect class="sp" x="751.5" y="-0.5" width="225" height="62"/>
<g class="B"><circle cx="31.5" cy="45" r="4.8"/><circle cx="61.5" cy="45" r="4.8"/><circle cx="91.5" cy="45" r="4.8"/><circle cx="121.5" cy="45" r="4.8"/><circle cx="151.5" cy="45" r="4.8"/><circle cx="181.5" cy="45" r="4.8"/><circle cx="211.5" cy="45" r="4.8"/><circle cx="241.5" cy="45" r="4.8"/><circle cx="511.5" cy="45" r="4.8"/><circle cx="571.5" cy="45" r="4.8"/><circle cx="601.5" cy="45" r="4.8"/></g>
<circle class="o" cx="271.5" cy="60" r="4.8"/>
<g class="O"><circle cx="301.5" cy="60" r="4.8"/><circle cx="331.5" cy="60" r="4.8"/><circle cx="361.5" cy="60" r="4.8"/><circle cx="391.5" cy="60" r="4.8"/><circle cx="421.5" cy="60" r="4.8"/><circle cx="451.5" cy="60" r="4.8"/></g>
<circle class="Y" cx="481.5" cy="30" r="4.8"/><circle class="G" cx="631.5" cy="0" r="4.8"/><circle class="R" cx="691.5" cy="15" r="4.8"/>
<g class="sy"><use href="#st" x="751.5" y="30"/><use href="#st" x="841.5" y="30"/></g>
<use href="#st" class="sb" x="871.5" y="45"/><use href="#st" class="so" x="931.5" y="60"/>
<text class="tp" x="31" y="-20">♩=149</text><text class="tp" x="271" y="-20">♩=150</text><text class="tp" x="511" y="-20">♩=148</text><text class="tp" x="751" y="-20">♩=147</text><text class="tp" x="991" y="-20">♩=148</text>
<text class="mn" x="32" y="-7.5">73</text><text class="mn" x="272" y="-7.5">74</text><text class="mn" x="512" y="-7.5">75</text><text class="mn" x="752" y="-7.5">76</text>
<text class="a" x="270.5" y="77">200</text><text class="b" x="270.5" y="90">99899</text><text class="c" x="270.5" y="103">0.00%</text>
<text class="a" x="510.5" y="77">200</text><text class="b" x="510.5" y="90">101399</text><text class="c" x="510.5" y="103">0.00%</text>
<text class="a" x="750.5" y="77">152</text><text class="b" x="750.5" y="90">102311</text><text class="c" x="750.5" y="103">0.00%</text>
<text class="a" x="990.5" y="77">133</text><text class="b" x="990.5" y="90">103109</text><text class="c" x="990.5" y="103">34.35%</text>
</g>

<g id="row20" transform="translate(0,2884.5)">
<use href="#grid"/>
<rect class="B" x="31.5" y="41.5" width="45" height="7"/><rect class="G" x="151.5" y="-3.5" width="45" height="7"/><rect class="R" x="211.5" y="11.5" width="45" height="7"/><rect class="Y" x="271.5" y="26.5" width="75" height="7"/><rect class="Y" x="391.5" y="26.5" width="45" height="7"/><rect class="B" x="451.5" y="41.5" width="45" height="7"/><rect class="O" x="511.5" y="56.5" width="75" height="7"/><rect class="B" x="601.5" y="41.5" width="75" height="7"/><rect class="R" x="751.5" y="11.5" width="75" height="7"/><rect class="Y" x="841.5" y="26.5" width="75" height="7"/>
<rect class="pk" x="391.5" y="-0.5" width="9" height="62"/>
<rect class="ov" x="400.5" y="-0.5" width="591" height="62"/>
<g class="B"><circle cx="31.5" cy="45" r="4.8"/><circle cx="91.5" cy="45" r="4.8"/><circle cx="121.5" cy="45" r="4.8"/><circle cx="451.5" cy="45" r="4.8"/><circle cx="601.5" cy="45" r="4.8"/></g>
<circle class="G" cx="151.5" cy="0" r="4.8"/><circle class="R" cx="211.5" cy="15" r="4.8"/>
<g class="Y"><circle cx="271.5" cy="30" r="4.8"/><circle cx="361.5" cy="30" r="4.8"/><circle cx="391.5" cy="30" r="4.8"/></g>
<circle class="o" cx="511.5" cy="60" r="4.8"/>
<g class="y"><circle cx="691.5" cy="30" r="4.8"/><circle cx="841.5" cy="30" r="4.8"/></g>
<circle class="g" cx="721.5" cy="0" r="4.8"/>
<g class="r"><circle cx="751.5" cy="15" r="4.8"/><circle cx="931.5" cy="15" r="4.8"/><circle cx="961.5" cy="15" r="4.8"/></g>
<text class="tp" x="271" y="-20">♩=150</text><text class="tp" x="511" y="-20">♩=148</text><text class="tp" x="751" y="-20">♩=149</text><text class="tp" x="991" y="-20">♩=150</text>
<text class="mn" x="32" y="-7.5">77</text><text class="mn" x="272" y="-7.5">78</text><text class="mn" x="512" y="-7.5">79</text><text class="mn" x="752" y="-7.5">80</text>
<text class="a" x="270.5" y="77">152</text><text class="b" x="270.5" y="90">104021</text><text class="c" x="270.5" y="103">34.35%</text>
<text class="a" x="510.5" y="77">133</text><text class="b" x="510.5" y="90">105227</text><text class="c" x="510.5" y="103">28.67%</text>
<text class="a" x="750.5" y="77">130</text><text class="b" x="750.5" y="90">106787</text><text class="c" x="750.5" y="103">16.17%</text>
<text class="a" x="990.5" y="77">130</text><text class="b" x="990.5" y="90">108347</text><text class="c" x="990.5" y="103">3.67%</text>
</g>

<g id="row21" transform="translate(0,3025.5)">
<use href="#grid"/>
<rect class="G" x="31.5" y="-3.5" width="45" height="7"/><rect class="Y" x="121.5" y="26.5" width="45" height="7"/><rect class="B" x="511.5" y="41.5" width="45" height="7"/><rect class="B" x="571.5" y="41.5" width="45" height="7"/><rect class="Y" x="751.5" y="26.5" width="75" height="7"/><rect class="B" x="871.5" y="41.5" width="45" height="7"/><rect class="O" x="931.5" y="56.5" width="45" height="7"/>
<rect class="ov" x="31.5" y="-0.5" width="647.5" height="62"/>
<rect class="pk" x="679" y="-0.5" width="13" height="62"/>
<rect class="sp" x="511.5" y="-0.5" width="210" height="62"/>
<g class="g"><circle cx="31.5" cy="0" r="4.8"/><circle cx="91.5" cy="0" r="4.8"/></g>
<g class="y"><circle cx="121.5" cy="30" r="4.8"/><circle cx="481.5" cy="30" r="4.8"/></g>
<g class="o"><circle cx="181.5" cy="60" r="4.8"/><circle cx="211.5" cy="60" r="4.8"/><circle cx="241.5" cy="60" r="4.8"/><circle cx="271.5" cy="60" r="4.8"/><circle cx="301.5" cy="60" r="4.8"/><circle cx="331.5" cy="60" r="4.8"/><circle cx="361.5" cy="60" r="4.8"/><circle cx="391.5" cy="60" r="4.8"/><circle cx="451.5" cy="60" r="4.8"/></g>
<g class="tb"><use href="#st" x="511.5" y="45"/><use href="#st" x="571.5" y="45"/><use href="#st" x="631.5" y="45"/></g>
<use href="#st" class="ty" x="661.5" y="30"/><use href="#st" class="sg" x="691.5" y="0"/><use href="#st" class="sR" x="721.5" y="15"/>
<g class="Y"><circle cx="751.5" cy="30" r="4.8"/><circle cx="841.5" cy="30" r="4.8"/></g>
<circle class="B" cx="871.5" cy="45" r="4.8"/><circle class="O" cx="931.5" cy="60" r="4.8"/>
<text class="tp" x="271" y="-20">♩=149</text><text class="tp" x="511" y="-20">♩=147</text><text class="tp" x="751" y="-20">♩=152</text><text class="tp" x="991" y="-20">♩=148</text>
<text class="mn" x="32" y="-7.5">81</text><text class="mn" x="272" y="-7.5">82</text><text class="mn" x="512" y="-7.5">83</text><text class="mn" x="752" y="-7.5">84</text>
<text class="a" x="270.5" y="77">168</text><text class="b" x="270.5" y="90">110363</text><text class="c" x="270.5" y="103">0.00%</text>
<text class="a" x="510.5" y="77">175</text><text class="b" x="510.5" y="90">112463</text><text class="c" x="510.5" y="103">0.00%</text>
<text class="a" x="750.5" y="77">168</text><text class="b" x="750.5" y="90">114329</text><text class="c" x="750.5" y="103">25.00%</text>
<text class="a" x="990.5" y="77">133</text><text class="b" x="990.5" y="90">115127</text><text class="c" x="990.5" y="103">25.00%</text>
</g>

<g id="row22" transform="translate(0,3166.5)">
<use href="#grid"/>
<rect class="B" x="31.5" y="41.5" width="45" height="7"/><rect class="G" x="151.5" y="-3.5" width="45" height="7"/><rect class="R" x="211.5" y="11.5" width="45" height="7"/><rect class="Y" x="271.5" y="26.5" width="75" height="7"/><rect class="Y" x="391.5" y="26.5" width="45" height="7"/><rect class="B" x="451.5" y="41.5" width="45" height="7"/><rect class="O" x="511.5" y="56.5" width="75" height="7"/><rect class="B" x="601.5" y="41.5" width="75" height="7"/><rect class="R" x="751.5" y="11.5" width="75" height="7"/><rect class="B" x="841.5" y="41.5" width="75" height="7"/>
<g class="B"><circle cx="31.5" cy="45" r="4.8"/><circle cx="91.5" cy="45" r="4.8"/><circle cx="121.5" cy="45" r="4.8"/><circle cx="451.5" cy="45" r="4.8"/><circle cx="601.5" cy="45" r="4.8"/><circle cx="841.5" cy="45" r="4.8"/><circle cx="931.5" cy="45" r="4.8"/><circle cx="961.5" cy="45" r="4.8"/></g>
<g class="G"><circle cx="151.5" cy="0" r="4.8"/><circle cx="721.5" cy="0" r="4.8"/></g>
<g class="R"><circle cx="211.5" cy="15" r="4.8"/><circle cx="751.5" cy="15" r="4.8"/></g>
<g class="Y"><circle cx="271.5" cy="30" r="4.8"/><circle cx="361.5" cy="30" r="4.8"/><circle cx="391.5" cy="30" r="4.8"/><circle cx="691.5" cy="30" r="4.8"/></g>
<circle class="O" cx="511.5" cy="60" r="4.8"/>
<text class="tp" x="271" y="-20">♩=148</text><text class="tp" x="511" y="-20">♩=149</text><text class="tp" x="751" y="-20">♩=150</text><text class="tp" x="991" y="-20">♩=148</text>
<text class="mn" x="32" y="-7.5">85</text><text class="mn" x="272" y="-7.5">86</text><text class="mn" x="512" y="-7.5">87</text><text class="mn" x="752" y="-7.5">88</text>
<text class="a" x="270.5" y="77">152</text><text class="b" x="270.5" y="90">116039</text><text class="c" x="270.5" y="103">25.00%</text>
<text class="a" x="510.5" y="77">133</text><text class="b" x="510.5" y="90">116837</text><text class="c" x="510.5" y="103">25.00%</text>
<text class="a" x="750.5" y="77">130</text><text class="b" x="750.5" y="90">117617</text><text class="c" x="750.5" y="103">25.00%</text>
<text class="a" x="990.5" y="77">130</text><text class="b" x="990.5" y="90">118397</text><text class="c" x="990.5" y="103">25.00%</text>
</g>

<g id="row23" transform="translate(0,3307.5)">
<use href="#grid22"/>
<text class="ts" x="274" y="28">2<tspan x="274" y="58">4</tspan></text><text class="ts" x="514" y="28">3<tspan x="514" y="58">4</tspan></text><text class="ts" x="694" y="28">4<tspan x="694" y="58">4</tspan></text>
<rect class="R" x="31.5" y="11.5" width="75" height="7"/><rect class="R" x="151.5" y="11.5" width="45" height="7"/><rect class="O" x="271.5" y="56.5" width="75" height="7"/><rect class="B" x="361.5" y="41.5" width="75" height="7"/><rect class="R" x="511.5" y="11.5" width="81.5" height="7"/><rect class="R" x="811.5" y="11.5" width="120" height="7"/>
<rect class="sp" x="271.5" y="-0.5" width="210" height="62"/>
<g class="R"><circle cx="31.5" cy="15" r="4.8"/><circle cx="121.5" cy="15" r="4.8"/><circle cx="151.5" cy="15" r="4.8"/><circle cx="211.5" cy="15" r="4.8"/><circle cx="511.5" cy="15" r="4.8"/><circle cx="811.5" cy="15" r="4.8"/></g>
<g class="B"><circle cx="241.5" cy="45" r="4.8"/><circle cx="631.5" cy="45" r="4.8"/></g>
<use href="#st" class="so" x="271.5" y="60"/><use href="#st" class="sb" x="361.5" y="45"/><use href="#st" class="sy" x="451.5" y="30"/><use href="#st" class="sg" x="481.5" y="0"/>
<g class="Y"><circle cx="691.5" cy="30" r="4.8"/><circle cx="751.5" cy="30" r="4.8"/></g>
<text class="tp" x="271" y="-20">♩=150</text><text class="tp" x="271" y="-20">♩=148</text><text class="tp" x="511" y="-20">♩=148</text><text class="tp" x="512" y="-20">♩=148</text><text class="tp" x="631" y="-20">♩=221</text><text class="tp" x="691" y="-20">♩=221</text><text class="tp" x="811" y="-20">♩=148</text>
<text class="mn" x="32" y="-7.5">89</text><text class="mn" x="272" y="-7.5">90</text><text class="mn" x="392" y="-7.5">91</text><text class="mn" x="512" y="-7.5">92</text><text class="mn" x="692" y="-7.5">93</text>
<text class="a" x="270.5" y="77">149</text><text class="b" x="270.5" y="90">119291</text><text class="c" x="270.5" y="103">25.00%</text>
<text class="a" x="390.5" y="77">71</text><text class="b" x="390.5" y="90">119717</text><text class="c" x="390.5" y="103">30.95%</text>
<text class="a" x="510.5" y="77">84</text><text class="b" x="510.5" y="90">120221</text><text class="c" x="510.5" y="103">58.50%</text>
<text class="a" x="690.5" y="77">42</text><text class="b" x="690.5" y="90">120473</text><text class="c" x="690.5" y="103">58.50%</text>
<text class="a" x="930.5" y="77">99</text><text class="b" x="930.5" y="90">121067</text><text class="c" x="930.5" y="103">58.50%</text>
</g>

<g id="row24" transform="translate(0,3448.5)">
<use href="#grid"/>
<rect class="R" x="31.5" y="11.5" width="600" height="7"/><rect class="R" x="661.5" y="11.5" width="330" height="7"/><rect class="O" x="661.5" y="56.5" width="330" height="7"/>
<rect class="ov" x="661" y="-0.5" width="330.5" height="62"/>
<circle class="r" cx="661.5" cy="15" r="4.8"/><circle class="o" cx="661.5" cy="60" r="4.8"/>
<text class="mn" x="32" y="-7.5">94</text><text class="mn" x="272" y="-7.5">95</text><text class="mn" x="512" y="-7.5">96</text><text class="mn" x="752" y="-7.5">97</text>
<text class="a" x="270.5" y="77">48</text><text class="b" x="270.5" y="90">121355</text><text class="c" x="270.5" y="103">58.50%</text>
<text class="a" x="510.5" y="77">48</text><text class="b" x="510.5" y="90">121643</text><text class="c" x="510.5" y="103">58.50%</text>
<text class="a" x="750.5" y="77">110</text><text class="b" x="750.5" y="90">122819</text><text class="c" x="750.5" y="103">53.79%</text>
<text class="a" x="990.5" y="77">96</text><text class="b" x="990.5" y="90">123971</text><text class="c" x="990.5" y="103">41.29%</text>
</g>

<g id="row25" transform="translate(0,3589.5)">
<use href="#grid"/>
<rect class="R" x="31.5" y="11.5" width="780" height="7"/><rect class="O" x="31.5" y="56.5" width="780" height="7"/>
<rect class="ov" x="31.5" y="-0.5" width="790.5" height="62"/>
<text class="mn" x="32" y="-7.5">98</text><text class="mn" x="272" y="-7.5">99</text><text class="mn" x="512" y="-7.5">100</text><text class="mn" x="752" y="-7.5">101</text>
<text class="a" x="270.5" y="77">96</text><text class="b" x="270.5" y="90">125123</text><text class="c" x="270.5" y="103">28.79%</text>
<text class="a" x="510.5" y="77">96</text><text class="b" x="510.5" y="90">126275</text><text class="c" x="510.5" y="103">16.29%</text>
<text class="a" x="750.5" y="77">96</text><text class="b" x="750.5" y="90">127427</text><text class="c" x="750.5" y="103">3.79%</text>
<text class="a" x="990.5" y="77">24</text><text class="b" x="990.5" y="90">127715</text><text class="c" x="990.5" y="103">0.00%</text>
</g>
</svg>
